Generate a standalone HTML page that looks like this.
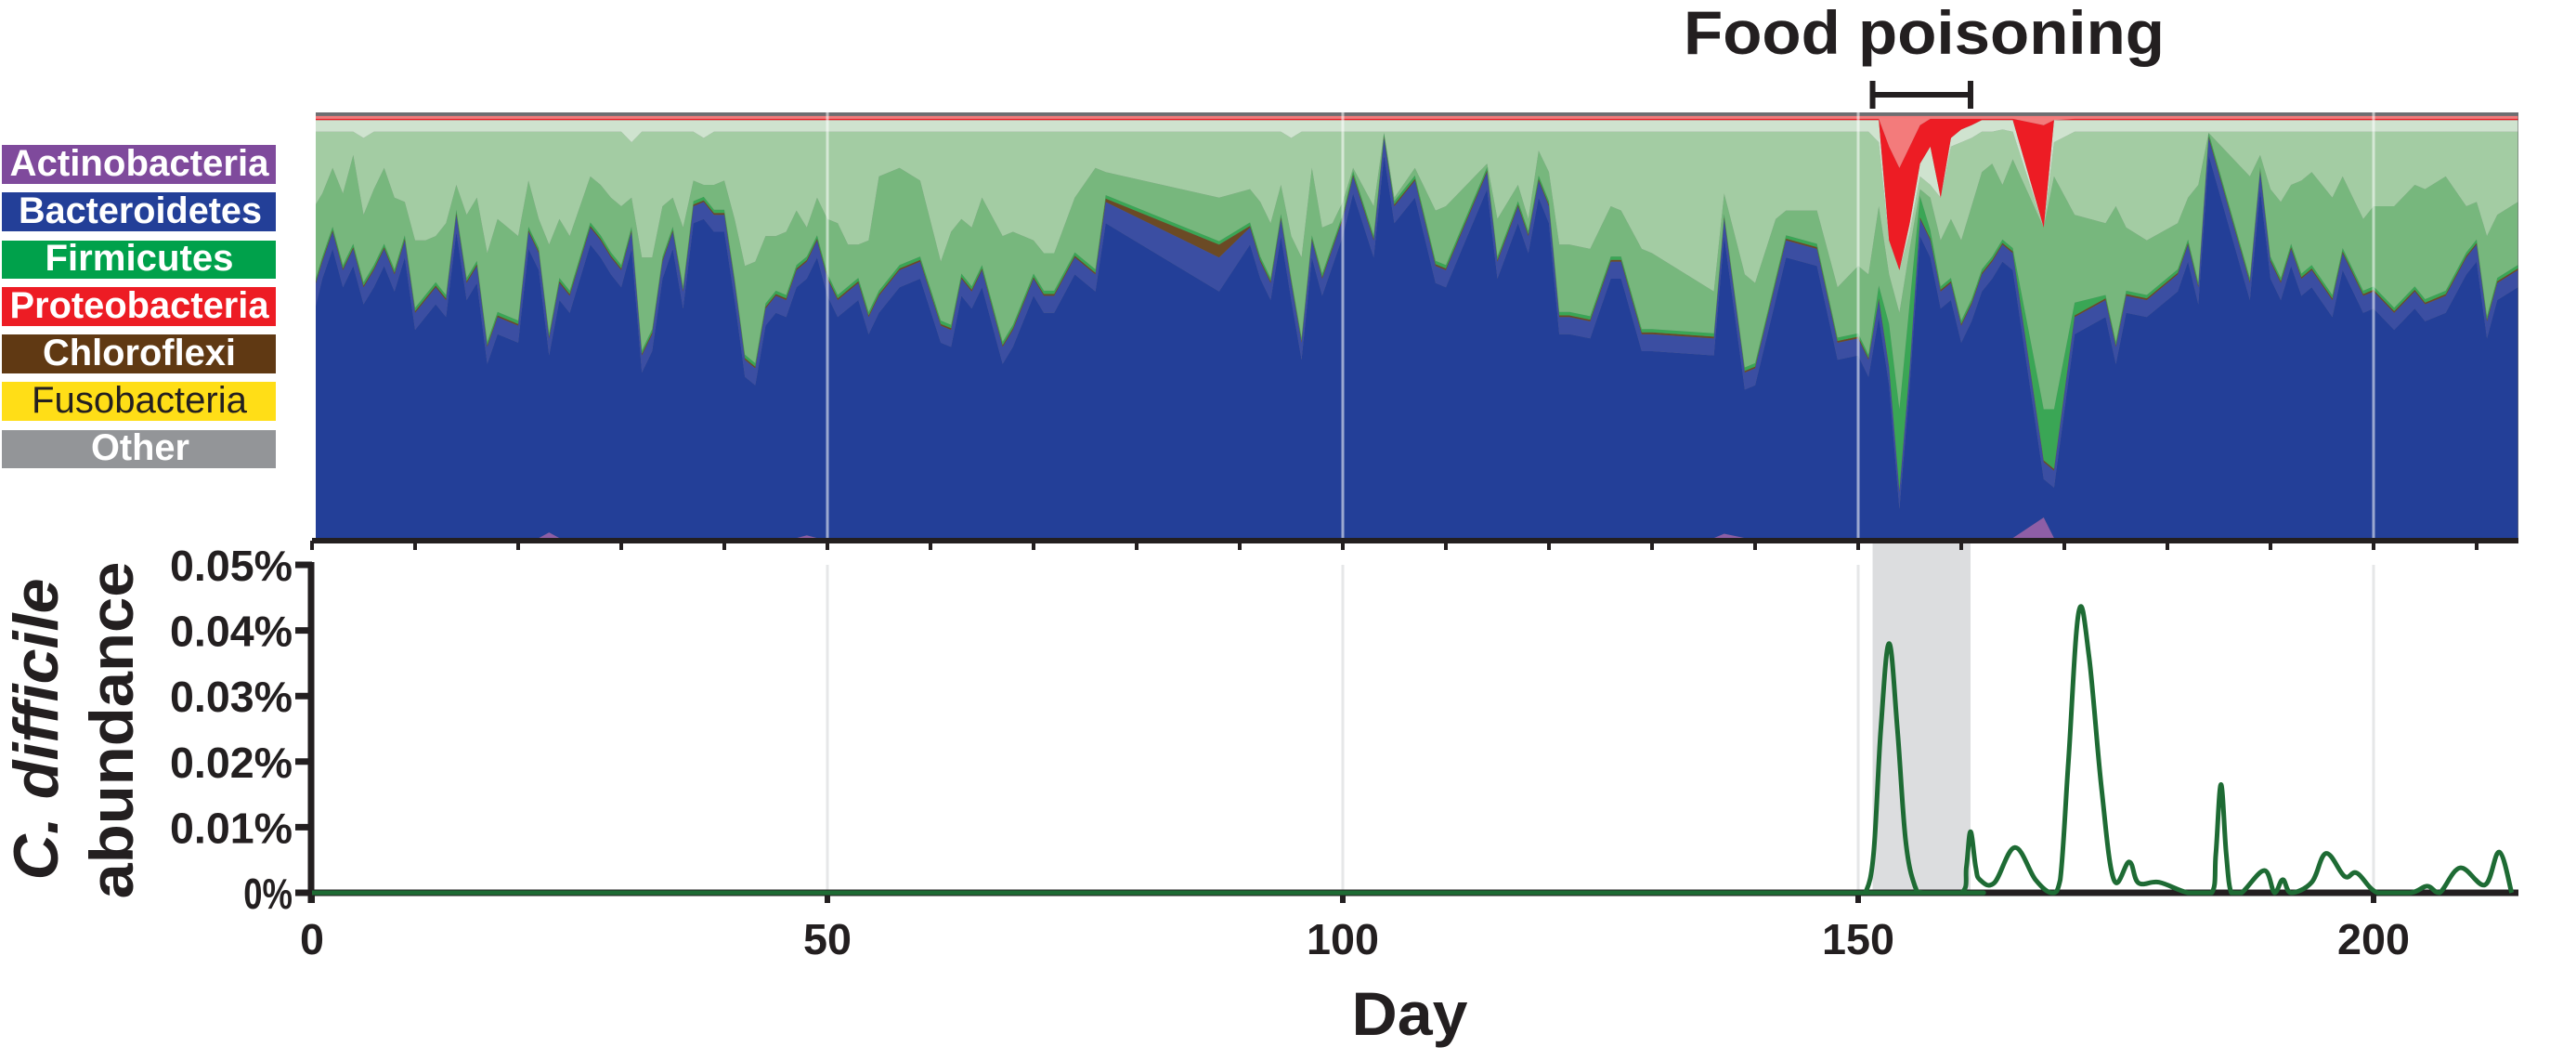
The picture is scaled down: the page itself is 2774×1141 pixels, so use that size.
<!DOCTYPE html>
<html><head><meta charset="utf-8"><style>
html,body{margin:0;padding:0;background:#fff;}
svg{display:block;font-family:"Liberation Sans",Arial,sans-serif;}
</style></head><body>
<svg id="chart" width="2774" height="1141" viewBox="0 0 2774 1141">
<defs><clipPath id="topclip"><rect x="340" y="121" width="2372" height="459"/></clipPath>
<clipPath id="botclip"><rect x="336" y="560" width="2376" height="403"/></clipPath></defs>
<g id="legend">
<g><rect x="2" y="156" width="295" height="42" fill="#7f4a9c"/><text x="150" y="189" text-anchor="middle" font-size="40" font-weight="bold" fill="#fff" textLength="279" lengthAdjust="spacingAndGlyphs">Actinobacteria</text></g>
<g><rect x="2" y="207" width="295" height="42" fill="#233f98"/><text x="151" y="240" text-anchor="middle" font-size="40" font-weight="bold" fill="#fff" textLength="262" lengthAdjust="spacingAndGlyphs">Bacteroidetes</text></g>
<g><rect x="2" y="259" width="295" height="41" fill="#00a14b"/><text x="150" y="291" text-anchor="middle" font-size="40" font-weight="bold" fill="#fff" textLength="203" lengthAdjust="spacingAndGlyphs">Firmicutes</text></g>
<g><rect x="2" y="309" width="295" height="42" fill="#ed1c24"/><text x="150" y="342" text-anchor="middle" font-size="40" font-weight="bold" fill="#fff" textLength="279" lengthAdjust="spacingAndGlyphs">Proteobacteria</text></g>
<g><rect x="2" y="360" width="295" height="42" fill="#603913"/><text x="150" y="393" text-anchor="middle" font-size="40" font-weight="bold" fill="#fff" textLength="208" lengthAdjust="spacingAndGlyphs">Chloroflexi</text></g>
<g><rect x="2" y="411" width="295" height="42" fill="#ffde17"/><text x="150" y="444" text-anchor="middle" font-size="40" fill="#231f20" textLength="232" lengthAdjust="spacingAndGlyphs">Fusobacteria</text></g>
<g><rect x="2" y="463" width="295" height="41" fill="#939598"/><text x="151" y="495" text-anchor="middle" font-size="40" font-weight="bold" fill="#fff" textLength="106" lengthAdjust="spacingAndGlyphs">Other</text></g>
</g>
<g id="top" clip-path="url(#topclip)"></g>
<g id="topgrid"></g>
<rect id="shade" fill="#dcdddf"/>
<g id="botgrid"></g>
<g id="axes"></g>
<g id="bot"></g>
<text x="2072" y="58" text-anchor="middle" font-size="66" font-weight="bold" fill="#231f20" textLength="518" lengthAdjust="spacingAndGlyphs">Food poisoning</text>
<g id="bracket"></g>
<text x="1518" y="1114" text-anchor="middle" font-size="66" font-weight="bold" fill="#231f20" textLength="125" lengthAdjust="spacingAndGlyphs">Day</text>
<text transform="translate(62,785) rotate(-90)" text-anchor="middle" font-size="68" font-weight="bold" font-style="italic" fill="#231f20" textLength="325" lengthAdjust="spacingAndGlyphs">C. difficile</text>
<text transform="translate(143,786) rotate(-90)" text-anchor="middle" font-size="66" font-weight="bold" fill="#231f20" textLength="363" lengthAdjust="spacingAndGlyphs">abundance</text>
</svg>
<script>
const days = [0,1,2,3,4,5,6,7,8,9,10,11,12,13,14,15,16,17,18,19,20,21,22,23,24,25,26,27,28,29,30,31,32,33,34,35,36,37,38,39,40,41,42,43,44,45,46,47,48,49,50,51,52,53,54,55,57,59,61,62,63,64,65,67,68,70,71,72,74,76,77,88,91,92,93,94,95,96,97,98,99,100,101,103,104,105,107,109,110,114,115,117,118,119,120,121,122,124,126,127,129,130,136,137,139,140,142,143,146,148,150,151,152,153,154,155,156,157,158,159,160,161,162,163,164,165,168,169,171,174,175,176,178,181,182,183,184,188,189,190,191,192,193,194,196,197,199,200,202,204,205,207,209,210,211,212,214];
const bacteroidetesTop = [57,65,72,63,68,59,63,68,62,70,53,56,59,56,76,60,64,45,52,51,50,72,67,47,60,57,65,73,70,66,63,72,43,48,65,72,58,78,79,76,76,60,42,40,54,57,56,63,65,70,61,56,58,60,52,57,63,65,50,49,61,58,63,45,49,61,57,57,66,62,79,66,73,65,60,75,60,46,70,61,68,75,85,70,94,78,84,64,63,86,65,78,71,84,78,52,52,51,65,65,48,48,47,75,39,40,60,70,68,46,47,42,56,40,11,40,75,70,58,60,50,55,62,65,69,67,18,16,52,56,45,57,56,62,69,59,94,60,86,65,60,68,61,63,56,67,57,58,53,58,55,57,66,69,51,60,63];
const firmicutesMidTop = [77,81,87,81,90,76,82,87,80,79,70,70,71,74,83,76,80,67,75,73,71,84,75,69,75,71,78,85,83,80,78,80,66,66,78,80,73,84,83,83,84,75,64,65,71,71,72,77,73,80,75,74,69,69,70,85,87,84,65,72,75,73,80,71,72,70,67,67,80,87,86,80,82,79,74,83,71,66,87,73,74,79,87,78,95,80,87,77,78,88,75,83,75,91,86,69,69,68,78,77,68,67,58,81,62,60,75,77,77,59,64,62,78,62,53,68,82,80,70,75,70,78,86,88,83,89,73,85,76,74,78,73,70,74,80,83,95,85,90,82,79,83,84,86,80,85,75,78,78,83,82,85,78,79,71,76,79];
// sparse overrides (day -> value); other days use the default
const firmDarkDays = [152,153,154,155,156,157,168,169,171];
const firmDarkVals = [3,10,19,15,5,2,12,14,3];
const chloroDays = [77,88];
const chloroVals = [0.8,3];
const bacLightDays = [0,77,88];
const bacLightVals = [6,5,8];
const actinoDays = [23,48,137,168];
const actinoVals = [1.5,0.8,1.2,5];
const lightTopDays = [5,31,38,95,152,153,154,155,156,157,158,159,160,161,164,168,169];
const lightTopVals = [94,93,94,94,93,70,63,72,85,83,80,92,93,94,96,73,93];
const paleTopDays = [153,154,155,156,157,158,159,160,161,168];
const paleTopVals = [70,63,74,88,92,80,94,96,97,73];
const redTopDays = [153,154,155,156,157,158,159,160,161,168,169];
const redTopVals = [92,87,92,97,98.5,98.5,98.5,98.5,98.5,97,97.5];
// C. difficile abundance (%)
const cdDays = [0,150,150.7,151.5,152.2,153,153.8,154.6,155.5,156.3,160,160.5,160.9,161.4,161.8,163.2,165.2,167.2,168.8,169.6,170.4,171.4,172.4,173.6,174.8,176.3,177.2,179.2,182,184.3,184.7,185.2,185.7,186.2,187.2,189.4,190.4,191.2,192,194,195.4,197.2,198.4,200.4,203.6,205.2,206.4,208.4,210.8,212.2,213.4];
const cdVals = [0,0,0,0.006,0.025,0.038,0.025,0.008,0.001,0,0,0.004,0.0093,0.004,0.002,0.0015,0.0069,0.002,0,0.002,0.02,0.0428,0.036,0.016,0.002,0.0047,0.0015,0.0016,0,0,0.006,0.0165,0.006,0,0,0.0034,0,0.002,0,0.0016,0.006,0.0025,0.003,0,0,0.001,0,0.0038,0.0012,0.0062,0];
const yTicks = [0,0.01,0.02,0.03,0.04,0.05];
const yTickLabels = ["0%","0.01%","0.02%","0.03%","0.04%","0.05%"];
const xTicks = [0,50,100,150,200];
const foodStart = 151.4, foodEnd = 160.9;

const NS="http://www.w3.org/2000/svg";
const X = d => 336 + 11.1*d;
const YT = p => 580 - p/100*459;
const YB = v => 961 - v/0.05*353;
function el(tag, attrs, parent){const e=document.createElementNS(NS,tag);for(const k in attrs)e.setAttribute(k,attrs[k]);parent.appendChild(e);return e;}
function ov(ds, vs, d, def){const i=ds.indexOf(d);return i<0?def:vs[i];}

// stacked boundaries
const n = days.length;
const bounds = [];
for(let i=0;i<n;i++){
  const d=days[i];
  const a=ov(actinoDays,actinoVals,d,0.2);
  const B=bacteroidetesTop[i];
  const lb=ov(bacLightDays,bacLightVals,d,4);
  const ch=ov(chloroDays,chloroVals,d,0.4);
  const fd=ov(firmDarkDays,firmDarkVals,d,0.8);
  const b=[0,a,Math.max(a,B-lb),Math.max(a,B)];
  b.push(b[3]+ch);
  b.push(b[4]+fd);
  b.push(Math.max(b[5],firmicutesMidTop[i]));
  b.push(Math.max(b[6],ov(lightTopDays,lightTopVals,d,95.5)));
  b.push(Math.max(b[7],ov(paleTopDays,paleTopVals,d,98.2)));
  b.push(Math.max(b[8],ov(redTopDays,redTopVals,d,b[8]+0.3)));
  b.push(Math.max(b[9],99.2));
  b.push(100);
  bounds.push(b);
}
const layerColors=["#8e5ea6","#233f98","#3b4ea2","#6b4a25","#3aa655","#77b77d","#a3cca3","#cfe3cf","#ed1c24","#f37b7b","#6d6e71"];
const layerNames=["actinobacteria-area","bacteroidetes-area","bacteroidetes-minor-area","chloroflexi-area","firmicutes-bloom-area","firmicutes-mid-area","firmicutes-light-area","firmicutes-pale-area","proteobacteria-area","proteobacteria-minor-area","other-area"];
const topG=document.getElementById('top');
el('rect',{x:336,y:121,width:2380,height:459,fill:'#6d6e71'},topG);
for(let L=0;L<11;L++){
  let pts=[];
  for(let i=0;i<n;i++) pts.push(X(days[i]).toFixed(1)+','+YT(bounds[i][L+1]).toFixed(1));
  for(let i=n-1;i>=0;i--) pts.push(X(days[i]).toFixed(1)+','+YT(bounds[i][L]).toFixed(1));
  const p=el('polygon',{points:pts.join(' '),fill:layerColors[L]},topG);
  
  
}
const tg=document.getElementById('topgrid');
for(const t of [50,100,150,200]){
  const l=el('line',{x1:X(t),x2:X(t),y1:121,y2:580,stroke:'#fff','stroke-opacity':0.55,'stroke-width':3},tg);
  
  
}
// shading
const sh=document.getElementById('shade');
sh.setAttribute('x',X(foodStart));sh.setAttribute('width',X(foodEnd)-X(foodStart));
sh.setAttribute('y',582);sh.setAttribute('height',378);
// bottom grid
const bg=document.getElementById('botgrid');
for(const t of [50,100,150,200]){
  const l=el('line',{x1:X(t),x2:X(t),y1:608,y2:958,stroke:'#e6e7e8','stroke-width':3},bg);
  
  
}
// axes
const ax=document.getElementById('axes');
el('line',{x1:336,x2:2712,y1:582,y2:582,stroke:'#231f20','stroke-width':6},ax);
for(let t=0;t<=210;t+=10){el('line',{x1:X(t),x2:X(t),y1:582,y2:592,stroke:'#231f20','stroke-width':4},ax);}
el('line',{x1:335,x2:335,y1:605,y2:972,stroke:'#231f20','stroke-width':7},ax);
el('line',{x1:332,x2:2712,y1:961,y2:961,stroke:'#231f20','stroke-width':7},ax);
for(let i=0;i<yTicks.length;i++){
  const y=YB(yTicks[i]);
  el('line',{x1:318,x2:336,y1:y,y2:y,stroke:'#231f20','stroke-width':7},ax);
  const t=el('text',{x:315,y:y+17,'text-anchor':'end','font-size':46,'font-weight':'bold',fill:'#231f20',textLength:yTickLabels[i].length*26.4,lengthAdjust:'spacingAndGlyphs'},ax);
  t.textContent=yTickLabels[i];
  
  
}
for(const v of xTicks){
  el('line',{x1:X(v),x2:X(v),y1:958,y2:972,stroke:'#231f20','stroke-width':6},ax);
  const t=el('text',{x:X(v),y:1027,'text-anchor':'middle','font-size':46,'font-weight':'bold',fill:'#231f20',textLength:String(v).length*26,lengthAdjust:'spacingAndGlyphs'},ax);
  t.textContent=v;
  
  
}
// C. difficile line (cardinal spline, clamped to baseline)
const botG=document.getElementById('bot');
const P=cdDays.map((d,i)=>[X(d),YB(cdVals[i])]);
let dstr='M'+P[0][0]+','+P[0][1];
for(let i=0;i<P.length-1;i++){
  const p0=P[Math.max(0,i-1)],p1=P[i],p2=P[i+1],p3=P[Math.min(P.length-1,i+2)];
  const k=0.18;
  const c1=[p1[0]+(p2[0]-p0[0])*k, Math.min(961,p1[1]+(p2[1]-p0[1])*k)];
  const c2=[p2[0]-(p3[0]-p1[0])*k, Math.min(961,p2[1]-(p3[1]-p1[1])*k)];
  dstr+=' C'+c1[0].toFixed(1)+','+c1[1].toFixed(1)+' '+c2[0].toFixed(1)+','+c2[1].toFixed(1)+' '+p2[0].toFixed(1)+','+p2[1].toFixed(1);
}
const line=el('path',{d:dstr,fill:'none',stroke:'#1e6b34','stroke-width':5,'stroke-linejoin':'round'},botG);


// bracket
const br=document.getElementById('bracket');
el('line',{x1:X(foodStart),x2:X(foodEnd),y1:102,y2:102,stroke:'#231f20','stroke-width':6},br);
el('line',{x1:X(foodStart),x2:X(foodStart),y1:87,y2:117,stroke:'#231f20','stroke-width':6},br);
el('line',{x1:X(foodEnd),x2:X(foodEnd),y1:87,y2:117,stroke:'#231f20','stroke-width':6},br);
</script>
</body></html>
